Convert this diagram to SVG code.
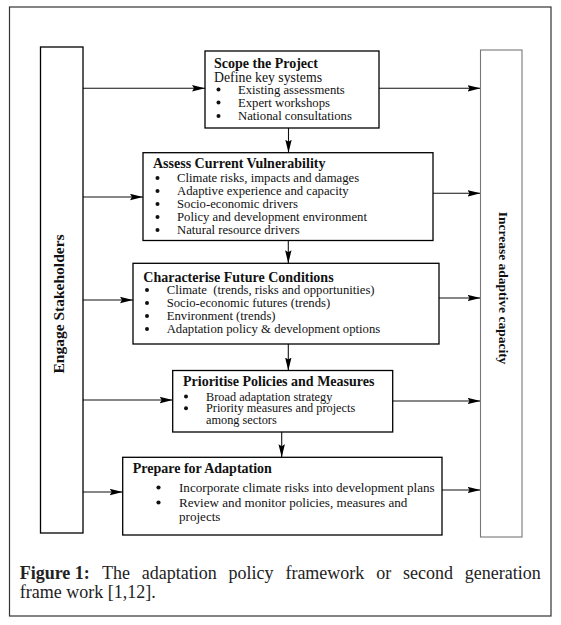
<svg xmlns="http://www.w3.org/2000/svg" width="561" height="625" viewBox="0 0 561 625">
<defs>
<style>
.bx{fill:#fff;stroke:#000;stroke-width:1.3}
.t{font-family:"Liberation Serif","Times New Roman",serif;font-size:14px;font-weight:bold;fill:#111}
.b{font-family:"Liberation Serif","Times New Roman",serif;font-size:12.7px;fill:#111}
.c{font-family:"Liberation Serif","Times New Roman",serif;font-size:18px;fill:#222}
.ln{stroke:#111;stroke-width:1.1;fill:none}
.dot{fill:#111}
</style>
<marker id="ah" markerUnits="userSpaceOnUse" markerWidth="13" markerHeight="7" refX="13" refY="3.2" orient="auto">
<path d="M0,0 L13,3.2 L0,6.4 L2,3.2 z" fill="#000"/>
</marker>
</defs>
<rect x="0" y="0" width="561" height="625" fill="#fff"/>
<rect x="9.5" y="7" width="541.5" height="609" fill="none" stroke="#333" stroke-width="1.2"/>

<g id="connectors">
<line class="ln" x1="83" y1="88.3" x2="205" y2="88.3" marker-end="url(#ah)"/>
<line class="ln" x1="379" y1="88.3" x2="480.5" y2="88.3" marker-end="url(#ah)"/>
<line class="ln" x1="83" y1="197" x2="143" y2="197" marker-end="url(#ah)"/>
<line class="ln" x1="433" y1="193.3" x2="480.5" y2="193.3" marker-end="url(#ah)" stroke="#555"/>
<line class="ln" x1="83" y1="300" x2="133" y2="300" marker-end="url(#ah)" stroke="#555"/>
<line class="ln" x1="439" y1="298" x2="480.5" y2="298" marker-end="url(#ah)"/>
<line class="ln" x1="83" y1="400" x2="172.7" y2="400" marker-end="url(#ah)"/>
<line class="ln" x1="392.7" y1="401" x2="480.5" y2="401" marker-end="url(#ah)"/>
<line class="ln" x1="83" y1="492" x2="122.7" y2="492" marker-end="url(#ah)" stroke="#555"/>
<line class="ln" x1="442" y1="490" x2="480.5" y2="490" marker-end="url(#ah)"/>
<line class="ln" x1="288.5" y1="128" x2="288.5" y2="152.7" marker-end="url(#ah)"/>
<line class="ln" x1="288.3" y1="240.5" x2="288.3" y2="263.3" marker-end="url(#ah)"/>
<line class="ln" x1="288.3" y1="344" x2="288.3" y2="370.5" marker-end="url(#ah)"/>
<line class="ln" x1="281.7" y1="432" x2="281.7" y2="457.3" marker-end="url(#ah)"/>
</g>

<g id="engage">
<rect x="40.5" y="47" width="42.5" height="486" fill="#fff" stroke="#000" stroke-width="1.3"/>
<text transform="translate(64,304) rotate(-90)" text-anchor="middle" class="t" style="font-size:15.5px">Engage Stakeholders</text>
</g>

<g id="increase">
<rect x="480.5" y="50" width="41.5" height="487" fill="#fff" stroke="#777" stroke-width="1.1"/>
<text transform="translate(498.5,288) rotate(90)" text-anchor="middle" class="t" style="font-size:13.5px">Increase adaptive capacity</text>
</g>

<g id="scope">
<rect class="bx" x="205" y="51" width="174" height="77"/>
<text class="t" x="214" y="67.5">Scope the Project</text>
<text class="b" x="214" y="81.5" style="font-size:13.8px">Define key systems</text>
<circle class="dot" cx="218.5" cy="89.5" r="2"/>
<text class="b" x="238" y="93.5">Existing assessments</text>
<circle class="dot" cx="218.5" cy="102.5" r="2"/>
<text class="b" x="238" y="106.5">Expert workshops</text>
<circle class="dot" cx="218.5" cy="116" r="2"/>
<text class="b" x="238" y="120">National consultations</text>
</g>

<g id="assess">
<rect class="bx" x="143" y="152.7" width="290" height="87.8"/>
<text class="t" x="153" y="168">Assess Current Vulnerability</text>
<circle class="dot" cx="157.5" cy="178" r="2"/>
<text class="b" x="177" y="182">Climate risks, impacts and damages</text>
<circle class="dot" cx="157.5" cy="191" r="2"/>
<text class="b" x="177" y="195">Adaptive experience and capacity</text>
<circle class="dot" cx="157.5" cy="204" r="2"/>
<text class="b" x="177" y="208">Socio-economic drivers</text>
<circle class="dot" cx="157.5" cy="217" r="2"/>
<text class="b" x="177" y="221">Policy and development environment</text>
<circle class="dot" cx="157.5" cy="230" r="2"/>
<text class="b" x="177" y="234">Natural resource drivers</text>
</g>

<g id="characterise">
<rect class="bx" x="133" y="263.3" width="306" height="80.7"/>
<text class="t" x="143.3" y="282">Characterise Future Conditions</text>
<circle class="dot" cx="147" cy="290" r="2"/>
<text class="b" x="166.7" y="294" xml:space="preserve">Climate  (trends, risks and opportunities)</text>
<circle class="dot" cx="147" cy="303" r="2"/>
<text class="b" x="166.7" y="307">Socio-economic futures (trends)</text>
<circle class="dot" cx="147" cy="316" r="2"/>
<text class="b" x="166.7" y="320">Environment (trends)</text>
<circle class="dot" cx="147" cy="329" r="2"/>
<text class="b" x="166.7" y="333">Adaptation policy &amp; development options</text>
</g>

<g id="prioritise">
<rect class="bx" x="172.7" y="370.5" width="220" height="61.5"/>
<text class="t" x="183" y="386">Prioritise Policies and Measures</text>
<circle class="dot" cx="186" cy="396.5" r="2"/>
<text class="b" x="206" y="400.5" style="font-size:12.3px">Broad adaptation strategy</text>
<circle class="dot" cx="186" cy="408.3" r="2"/>
<text class="b" x="206" y="412.3" style="font-size:12.3px">Priority measures and projects</text>
<text class="b" x="206" y="424" style="font-size:12.3px">among sectors</text>
</g>

<g id="prepare">
<rect class="bx" x="122.7" y="457.3" width="319.3" height="77.7"/>
<text class="t" x="132.7" y="473.3">Prepare for Adaptation</text>
<circle class="dot" cx="158.5" cy="487.5" r="2.1"/>
<text class="b" x="179" y="491.7" style="font-size:13.1px">Incorporate climate risks into development plans</text>
<circle class="dot" cx="158.5" cy="502.5" r="2.1"/>
<text class="b" x="179" y="506.7" style="font-size:13.1px">Review and monitor policies, measures and</text>
<text class="b" x="179" y="520.7" style="font-size:13.1px">projects</text>
</g>

<g id="caption">
<text class="c" y="579"><tspan x="19.7" font-weight="bold">Figure 1:</tspan><tspan x="102">The</tspan><tspan x="141.8">adaptation</tspan><tspan x="228.6">policy</tspan><tspan x="285.4">framework</tspan><tspan x="376.2">or</tspan><tspan x="403">second</tspan><tspan x="464.8">generation</tspan></text>
<text class="c" x="19.7" y="598">frame work [1,12].</text>
</g>
</svg>
